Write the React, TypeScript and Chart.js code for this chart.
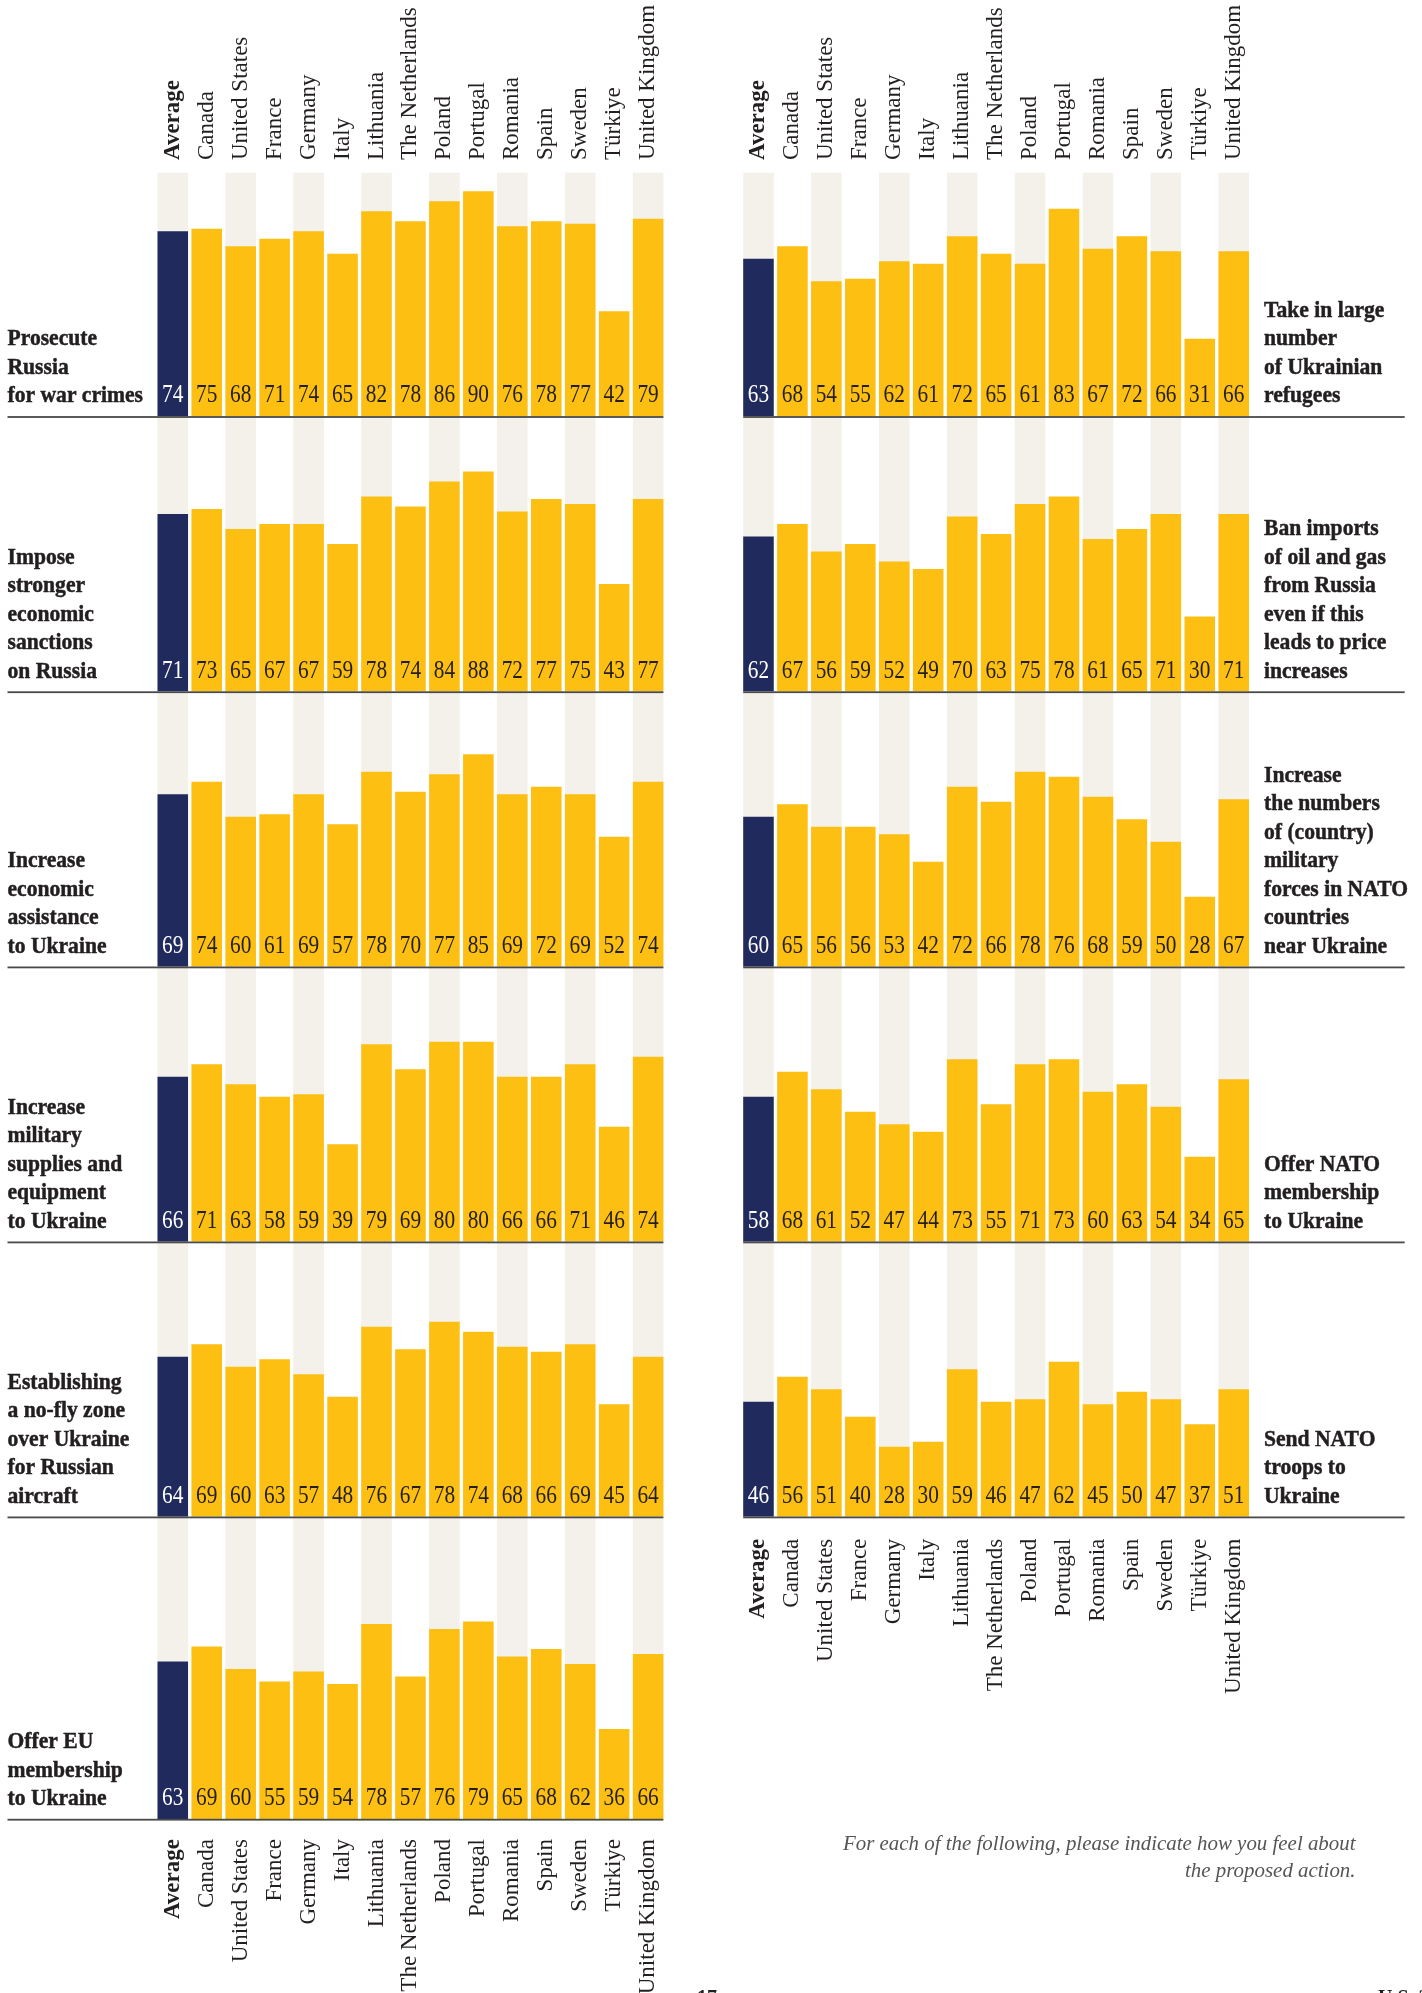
import React, { useEffect, useRef } from "react";
import { Chart, registerables } from "chart.js";

Chart.register(...registerables);

// ---------- data ----------
const countries = [
  "Average", "Canada", "United States", "France", "Germany", "Italy", "Lithuania",
  "The Netherlands", "Poland", "Portugal", "Romania", "Spain", "Sweden", "Türkiye", "United Kingdom",
];

const prosecuteRussia = [74, 75, 68, 71, 74, 65, 82, 78, 86, 90, 76, 78, 77, 42, 79];
const strongerSanctions = [71, 73, 65, 67, 67, 59, 78, 74, 84, 88, 72, 77, 75, 43, 77];
const economicAssistance = [69, 74, 60, 61, 69, 57, 78, 70, 77, 85, 69, 72, 69, 52, 74];
const militarySupplies = [66, 71, 63, 58, 59, 39, 79, 69, 80, 80, 66, 66, 71, 46, 74];
const noFlyZone = [64, 69, 60, 63, 57, 48, 76, 67, 78, 74, 68, 66, 69, 45, 64];
const euMembership = [63, 69, 60, 55, 59, 54, 78, 57, 76, 79, 65, 68, 62, 36, 66];

const takeRefugees = [63, 68, 54, 55, 62, 61, 72, 65, 61, 83, 67, 72, 66, 31, 66];
const banOilGas = [62, 67, 56, 59, 52, 49, 70, 63, 75, 78, 61, 65, 71, 30, 71];
const forcesNearUkraine = [60, 65, 56, 56, 53, 42, 72, 66, 78, 76, 68, 59, 50, 28, 67];
const natoMembership = [58, 68, 61, 52, 47, 44, 73, 55, 71, 73, 60, 63, 54, 34, 65];
const sendNatoTroops = [46, 56, 51, 40, 28, 30, 59, 46, 47, 62, 45, 50, 47, 37, 51];

const leftSeries = [prosecuteRussia, strongerSanctions, economicAssistance, militarySupplies, noFlyZone, euMembership];
const rightSeries = [takeRefugees, banOilGas, forcesNearUkraine, natoMembership, sendNatoTroops];

const leftQuestions = [
  ["Prosecute", "Russia", "for war crimes"],
  ["Impose", "stronger", "economic", "sanctions", "on Russia"],
  ["Increase", "economic", "assistance", "to Ukraine"],
  ["Increase", "military", "supplies and", "equipment", "to Ukraine"],
  ["Establishing", "a no-fly zone", "over Ukraine", "for Russian", "aircraft"],
  ["Offer EU", "membership", "to Ukraine"],
];
const rightQuestions = [
  ["Take in large", "number", "of Ukrainian", "refugees"],
  ["Ban imports", "of oil and gas", "from Russia", "even if this", "leads to price", "increases"],
  ["Increase", "the numbers", "of (country)", "military", "forces in NATO", "countries", "near Ukraine"],
  ["Offer NATO", "membership", "to Ukraine"],
  ["Send NATO", "troops to", "Ukraine"],
];

const footnoteLines = ["For each of the following, please indicate how you feel about", "the proposed action."];

// ---------- styling / layout ----------
const NAVY = "#212a5c";
const YELLOW = "#fcbf12";
const BAND = "#f4f0ea";
const INK = "#231f20";
const RULE = "#4a4a4a";
const SERIF = '"Liberation Serif", "Times New Roman", serif';

const PAGE_W = 1422;
const PAGE_H = 1993;
const TOP = 172.7;
const PX_PER_POINT = 2.5;
const TICK_SIZE = 23;
const LEFT_BASES = [416.3, 691.5, 966.7, 1241.7, 1516.7, 1819];
const RIGHT_BASES = [416.3, 691.5, 966.7, 1241.7, 1516.7];

type ColumnProps = {
  left: number;
  width: number;
  plotLeft: number;
  plotRight: number;
  bases: number[];
  series: number[][];
  questions: string[][];
  side: "left" | "right";
  labelX: number;
  ruleEdge: number;
  bottomPad: number;
};

function Column(props: ColumnProps) {
  const ref = useRef<HTMLCanvasElement | null>(null);
  const { left, width, plotLeft, plotRight, bases, series, questions, side, labelX, ruleEdge, bottomPad } = props;

  useEffect(() => {
    const canvas = ref.current;
    if (!canvas) return;
    const heights = bases.map((b, i) => b - (i === 0 ? TOP : bases[i - 1]));
    const tickFont = (c: any) => ({ family: SERIF, size: TICK_SIZE, weight: c.index === 0 ? "bold" : "normal" });
    const tickBase = { autoSkip: false, minRotation: 90, maxRotation: 90, color: INK, font: tickFont };

    const scales: any = {
      x: {
        type: "category",
        position: "top",
        offset: true,
        grid: { display: false, drawTicks: false },
        border: { display: false },
        ticks: { ...tickBase, padding: 12.7, labelOffset: TICK_SIZE * 1.2 },
        afterFit: (s: any) => { s.height = TOP; },
      },
      x2: {
        type: "category",
        labels: countries,
        position: "bottom",
        offset: true,
        grid: { display: false, drawTicks: false },
        border: { display: false },
        ticks: { ...tickBase, padding: bottomPad },
        afterFit: (s: any) => { s.height = PAGE_H - bases[bases.length - 1]; },
      },
    };
    heights.forEach((h, i) => {
      scales["y" + i] = {
        type: "linear",
        display: false,
        position: "left",
        stack: "panels",
        stackWeight: h,
        weight: heights.length - i,
        min: 0,
        max: h / PX_PER_POINT,
      };
    });

    const datasets = series.map((values, i) => ({
      data: values,
      xAxisID: "x",
      yAxisID: "y" + i,
      backgroundColor: values.map((_, j) => (j === 0 ? NAVY : YELLOW)),
      borderWidth: 0,
      grouped: false,
      categoryPercentage: 0.9,
      barPercentage: 1,
    }));

    const decor = {
      id: "decor",
      beforeDatasetsDraw(chart: any) {
        const ctx = chart.ctx;
        const { top, bottom } = chart.chartArea;
        const bars = chart.getDatasetMeta(0).data;
        ctx.save();
        ctx.fillStyle = BAND;
        bars.forEach((bar: any, i: number) => {
          if (i % 2 === 0) ctx.fillRect(bar.x - bar.width / 2, top, bar.width, bottom - top);
        });
        ctx.restore();
      },
      afterDatasetsDraw(chart: any) {
        const ctx = chart.ctx;
        const first = chart.getDatasetMeta(0).data;
        const w = first[0].width;
        const barLeft = first[0].x - w / 2;
        const barRight = first[first.length - 1].x + w / 2;
        ctx.save();
        series.forEach((values, i) => {
          const yBase = chart.scales["y" + i].getPixelForValue(0);
          const x0 = side === "left" ? labelX : barLeft;
          const x1 = side === "left" ? barRight : ruleEdge;
          ctx.fillStyle = RULE;
          ctx.fillRect(x0, yBase - 0.2, x1 - x0, 1.8);

          const bars = chart.getDatasetMeta(i).data;
          ctx.font = `26px ${SERIF}`;
          ctx.textAlign = "center";
          ctx.textBaseline = "alphabetic";
          bars.forEach((bar: any, j: number) => {
            ctx.fillStyle = j === 0 ? "#ffffff" : INK;
            ctx.save();
            ctx.translate(bar.x, yBase - 14);
            ctx.scale(0.82, 1);
            ctx.fillText(String(values[j]), 0, 0);
            ctx.restore();
          });

          const lines = questions[i];
          ctx.font = `bold 24px ${SERIF}`;
          ctx.textAlign = "left";
          ctx.fillStyle = INK;
          ctx.strokeStyle = INK;
          ctx.lineWidth = 0.5;
          lines.forEach((line, k) => {
            const y = yBase - 14 - (lines.length - 1 - k) * 28.5;
            ctx.save();
            ctx.translate(labelX, y);
            ctx.scale(0.9, 1);
            ctx.fillText(line, 0, 0);
            ctx.strokeText(line, 0, 0);
            ctx.restore();
          });
        });
        ctx.restore();
      },
    };

    const chart = new Chart(canvas, {
      type: "bar",
      data: { labels: countries, datasets },
      options: {
        responsive: false,
        animation: false,
        devicePixelRatio: 1,
        layout: { padding: { left: plotLeft, right: width - plotRight, top: 0, bottom: 0 } },
        plugins: { legend: { display: false }, tooltip: { enabled: false } },
        scales,
      } as any,
      plugins: [decor],
    });
    return () => chart.destroy();
  }, []);

  return (
    <canvas
      ref={ref}
      width={width}
      height={PAGE_H}
      style={{ position: "absolute", left, top: 0, width, height: PAGE_H }}
    />
  );
}

export default function App() {
  return (
    <div
      style={{
        position: "absolute",
        left: 0,
        top: 0,
        width: PAGE_W,
        height: PAGE_H,
        overflow: "hidden",
        background: "#ffffff",
      }}
    >
      <Column
        left={0}
        width={700}
        plotLeft={155.8}
        plotRight={665.1}
        bases={LEFT_BASES}
        series={leftSeries}
        questions={leftQuestions}
        side="left"
        labelX={7.5}
        ruleEdge={0}
        bottomPad={20}
      />
      <Column
        left={700}
        width={722}
        plotLeft={41.5}
        plotRight={550.7}
        bases={RIGHT_BASES}
        series={rightSeries}
        questions={rightQuestions}
        side="right"
        labelX={564}
        ruleEdge={704.7}
        bottomPad={22}
      />
      <div
        style={{
          position: "absolute",
          right: PAGE_W - 1356,
          top: 1830,
          textAlign: "right",
          font: `italic 22px ${SERIF}`,
          lineHeight: "26.5px",
          color: "#555555",
          transform: "scaleX(0.95)",
          transformOrigin: "right top",
          whiteSpace: "nowrap",
        }}
      >
        {footnoteLines.map((l) => (
          <div key={l}>{l}</div>
        ))}
      </div>
      <div style={{ position: "absolute", left: 697, top: 1986, font: `bold 20px ${SERIF}`, color: INK }}>17</div>
      <div style={{ position: "absolute", left: 1378, top: 1986, font: `bold 20px ${SERIF}`, color: INK, whiteSpace: "nowrap" }}>U.S. 2024</div>
    </div>
  );
}
